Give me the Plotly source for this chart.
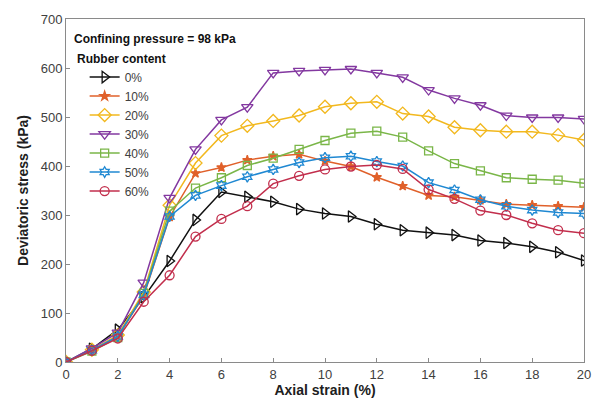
import plotly.graph_objects as go

strain = list(range(0, 21))
labels = ["0%", "10%", "20%", "30%", "40%", "50%", "60%"]
s0 = [0, 27, 66, 132, 206, 290, 347, 337, 327, 312, 303, 297, 281, 269, 264, 259, 248, 243, 235, 224, 207]
s10 = [0, 24, 52, 135, 296, 385, 397, 412, 420, 424, 410, 399, 377, 359, 340, 337, 330, 322, 320, 318, 316]
s20 = [0, 25, 55, 143, 320, 406, 462, 482, 492, 503, 521, 528, 531, 507, 501, 479, 473, 470, 470, 463, 453]
s30 = [0, 28, 60, 162, 335, 434, 494, 520, 590, 594, 596, 598, 590, 581, 555, 538, 524, 503, 499, 499, 496]
s40 = [0, 22, 50, 140, 308, 355, 376, 401, 416, 434, 452, 467, 471, 459, 431, 405, 390, 376, 373, 371, 365]
s50 = [0, 24, 52, 137, 297, 340, 360, 378, 393, 407, 417, 420, 409, 400, 366, 351, 331, 318, 310, 305, 303]
s60 = [0, 23, 48, 123, 177, 256, 292, 318, 364, 380, 393, 399, 402, 394, 352, 333, 309, 300, 283, 269, 263]
series = [s0, s10, s20, s30, s40, s50, s60]

colors = ["#111111", "#E0602A", "#F2B81E", "#8338A0", "#7AB648", "#1F88D2", "#C22E4C"]
symbols = ["triangle-right-open", "star", "diamond-open", "triangle-down-open",
           "square-open", "hexagram-open", "circle-open"]
sizes = [10, 7, 10, 10, 8, 8, 9]

fig = go.Figure()
for lab, ys, c, sym, sz in zip(labels, series, colors, symbols, sizes):
    fig.add_trace(go.Scatter(
        x=strain, y=ys, name=lab, mode="lines+markers",
        line=dict(color=c, width=1.5),
        marker=dict(symbol=sym, size=sz, color=c, line=dict(color=c, width=1.3)),
    ))

font_family = "Liberation Sans, Arial, sans-serif"
axis_common = dict(
    showline=True, linecolor="#8a8a8a", linewidth=1, mirror=True,
    ticks="inside", ticklen=4, tickcolor="#8a8a8a",
    showgrid=False, zeroline=False,
    tickfont=dict(family=font_family, size=13, color="#404040"),
)

fig.update_layout(
    width=603, height=408,
    margin=dict(l=66, r=15, t=19, b=46),
    paper_bgcolor="white", plot_bgcolor="white",
    font=dict(family=font_family),
    xaxis=dict(range=[0, 20], dtick=2,
               title=dict(text="<b>Axial strain (%)</b>", standoff=4,
                          font=dict(size=14, color="#202020")),
               **axis_common),
    yaxis=dict(range=[0, 700], dtick=100,
               title=dict(text="<b>Deviatoric stress (kPa)</b>", standoff=8,
                          font=dict(size=14, color="#202020")),
               **axis_common),
    legend=dict(x=0.036, y=0.873, xanchor="left", yanchor="top",
                bgcolor="rgba(0,0,0,0)", font=dict(size=12, color="#404040"),
                itemwidth=30, tracegroupgap=0),
    annotations=[
        dict(text="<b>Confining pressure = 98 kPa</b>", xref="paper", yref="paper",
             x=0.011, y=0.942, xanchor="left", yanchor="middle", showarrow=False,
             font=dict(size=12, color="#111111")),
        dict(text="<b>Rubber content</b>", xref="paper", yref="paper",
             x=0.017, y=0.884, xanchor="left", yanchor="middle", showarrow=False,
             font=dict(size=12, color="#111111")),
    ],
)

fig.write_html("out.html", config={"displayModeBar": False},
               post_script="document.body.style.margin='0';document.body.style.overflow='hidden';")
